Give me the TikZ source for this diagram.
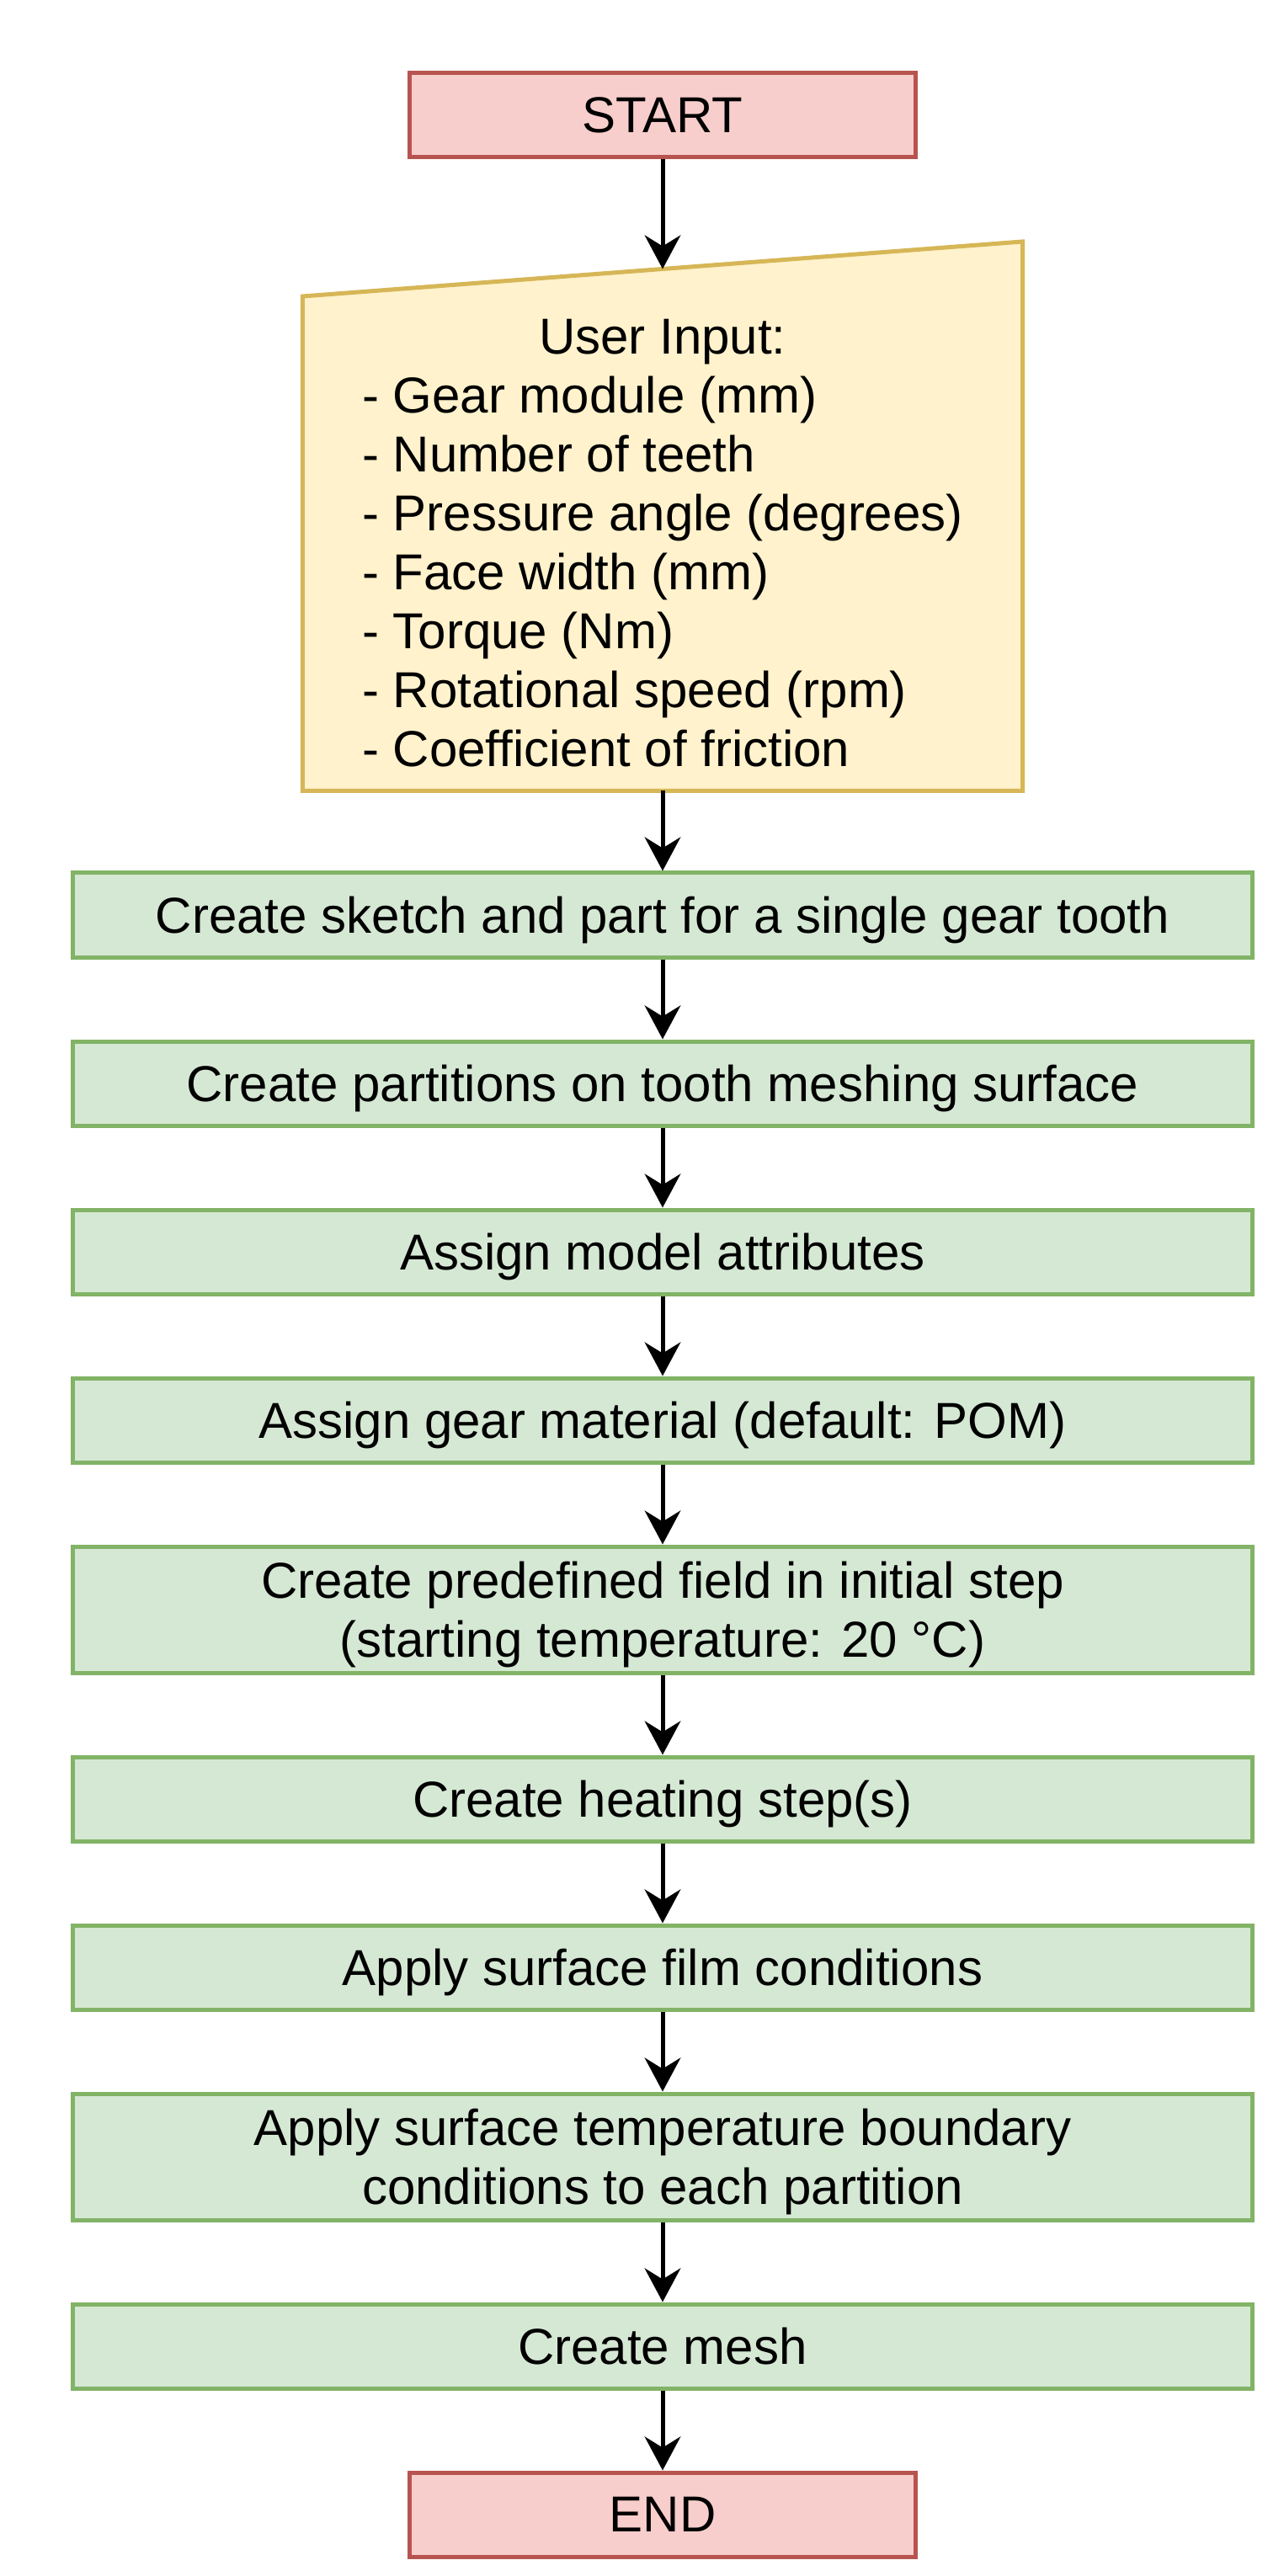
\documentclass[tikz,border=0pt]{standalone}
\usepackage{fontspec}
\setmainfont{Liberation Sans}
\usetikzlibrary{positioning,arrows.meta,backgrounds}
\definecolor{redfill}{HTML}{F8CECC}
\definecolor{redline}{HTML}{B85450}
\definecolor{yellowfill}{HTML}{FFF2CC}
\definecolor{yellowline}{HTML}{D6B656}
\definecolor{greenfill}{HTML}{D5E8D4}
\definecolor{greenline}{HTML}{82B366}
\tikzset{
  terminal/.style={draw=redline, fill=redfill, line width=1pt,
    minimum width=120pt, minimum height=20pt, inner sep=1pt, text depth=0pt},
  process/.style={draw=greenline, fill=greenfill, line width=1pt,
    minimum width=280pt, minimum height=20pt, inner sep=1pt, align=center,
    text depth=0pt},
  flow/.style={-{Stealth[length=8pt,width=8.5pt,inset=2.6pt]}, line width=1pt},
}
\begin{document}
\begin{tikzpicture}[font=\fontsize{12pt}{14pt}\selectfont, node distance=19pt]
  \useasboundingbox (-157.4pt,0pt) rectangle (143.6pt,-612pt);
  \node[terminal] (start) at (0pt,-27.4pt) {START};
  \node[line width=1pt, minimum width=170pt, minimum height=116.5pt, inner sep=0pt,
    below=32.5pt of start] (input) {\begin{tabular}{@{}l@{}}
      \multicolumn{1}{@{}c@{}}{\rule{0pt}{12pt}User Input:}\\
      - Gear module (mm)\\
      - Number of teeth\\
      - Pressure angle (degrees)\\
      - Face width (mm)\\
      - Torque (Nm)\\
      - Rotational speed (rpm)\\
      - Coefficient of friction
    \end{tabular}};
  \begin{scope}[on background layer]
    \draw[draw=yellowline, fill=yellowfill, line width=1pt]
      (input.south west) -- (input.north west)
      -- ([yshift=13pt]input.north east) -- (input.south east) -- cycle;
  \end{scope}
  \node[process, below=of input] (sketch) {Create sketch and part for a single gear tooth};
  \node[process, below=of sketch] (partition) {Create partitions on tooth meshing surface};
  \node[process, below=of partition] (attrib) {Assign model attributes};
  \node[process, below=of attrib] (material) {Assign gear material (default: POM)};
  \node[process, minimum height=30pt, below=of material] (field)
    {Create predefined field in initial step\\(starting temperature: 20 °C)};
  \node[process, below=of field] (heating) {Create heating step(s)};
  \node[process, below=of heating] (film) {Apply surface film conditions};
  \node[process, minimum height=30pt, below=of film] (boundary)
    {Apply surface temperature boundary\\conditions to each partition};
  \node[process, below=of boundary] (mesh) {Create mesh};
  \node[terminal, below=of mesh] (stop) {END};

  \draw[flow] (start) -- ([yshift=6.5pt]input.north);
  \foreach \a/\b in {input/sketch, sketch/partition, partition/attrib,
    attrib/material, material/field, field/heating, heating/film,
    film/boundary, boundary/mesh, mesh/stop}
    \draw[flow] (\a) -- (\b);
\end{tikzpicture}
\end{document}
